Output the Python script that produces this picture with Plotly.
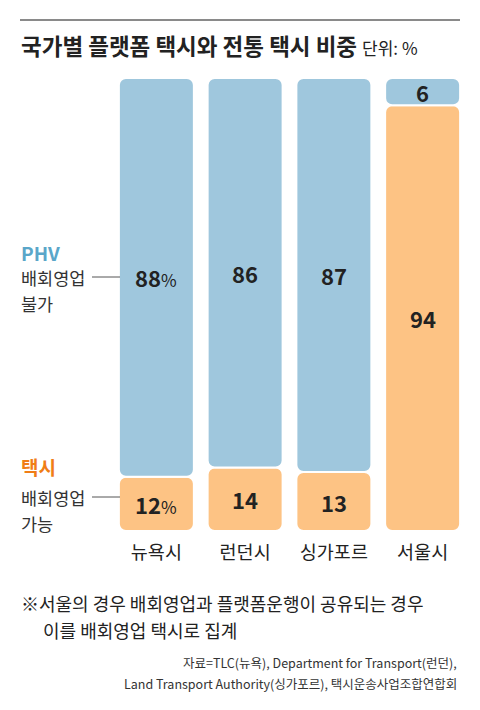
import plotly.graph_objects as go

# data
cities = ["뉴욕시", "런던시", "싱가포르", "서울시"]
phv_share = [88, 86, 87, 6]       # 배회영업 불가 (PHV)
taxi_share = [12, 14, 13, 94]     # 배회영업 가능 (택시)

title = "국가별 플랫폼 택시와 전통 택시 비중"
unit = "단위: %"
note_lines = ["※서울의 경우 배회영업과 플랫폼운행이 공유되는 경우", "이를 배회영업 택시로 집계"]
source_lines = ["자료=TLC(뉴욕), Department for Transport(런던),",
                "Land Transport Authority(싱가포르), 택시운송사업조합연합회"]

BLUE = "#9fc7dd"
ORANGE = "#fdc384"
FONT = "Noto Sans CJK KR"
OFF = 8  # page body margin
W, H = 480 - OFF, 710 - OFF

def px(x):
    return (x - OFF) / W

def py(y):
    return 1 - (y - OFF) / H

fig = go.Figure()

# taxi bars drawn downward from their top so the rounded end sits at the bottom
fig.add_trace(go.Bar(
    x=cities, y=[-v for v in taxi_share], base=taxi_share,
    marker=dict(color=ORANGE, line=dict(color="white", width=2)),
    hoverinfo="skip", showlegend=False,
))
fig.add_trace(go.Bar(
    x=cities, y=phv_share, base=taxi_share,
    marker=dict(color=BLUE, line=dict(color="white", width=2)),
    hoverinfo="skip", showlegend=False,
))

# value labels at segment midpoints
for i, c in enumerate(cities):
    pct = "<span style='font-size:17px'>%</span>" if i == 0 else ""
    fig.add_annotation(x=c, y=taxi_share[i] + phv_share[i] / 2, xref="x", yref="y",
                       text=f"<b>{phv_share[i]}</b>{pct}", showarrow=False,
                       font=dict(size=22, color="#222", family=FONT))
    fig.add_annotation(x=c, y=taxi_share[i] / 2, xref="x", yref="y",
                       text=f"<b>{taxi_share[i]}</b>{pct}", showarrow=False,
                       font=dict(size=22, color="#222", family=FONT))

# title and rule
fig.add_shape(type="line", xref="paper", yref="paper", x0=px(20), x1=px(460),
              y0=py(20), y1=py(20), line=dict(color="#8a8a8a", width=2))
fig.add_annotation(xref="paper", yref="paper", x=px(19), y=py(45), xanchor="left", yanchor="middle",
                   text=f"<b>{title}</b> <span style='font-size:17px'>{unit}</span>",
                   showarrow=False, font=dict(size=22.5, color="#222", family=FONT))

# left legend labels
def side_label(y, text, color, size=17.5, bold=False):
    t = f"<b>{text}</b>" if bold else text
    fig.add_annotation(xref="paper", yref="paper", x=px(19), y=py(y), xanchor="left", yanchor="middle",
                       text=t, showarrow=False, font=dict(size=size, color=color, family=FONT))

side_label(252, "PHV", "#5aa6c9", 19, True)
side_label(277, "배회영업", "#333")
side_label(303, "불가", "#333")
side_label(466, "택시", "#f07d16", 19, True)
side_label(497, "배회영업", "#333")
side_label(523, "가능", "#333")
for yy in (277, 497):
    fig.add_shape(type="line", xref="paper", yref="paper", x0=px(92), x1=px(120),
                  y0=py(yy), y1=py(yy), line=dict(color="#555", width=1))

# note and source
for i, (t, y) in enumerate(zip(note_lines, [603, 630])):
    fig.add_annotation(xref="paper", yref="paper", x=px(19 if i == 0 else 41), y=py(y),
                       xanchor="left", yanchor="middle", text=t, showarrow=False,
                       font=dict(size=18, color="#222", family=FONT))
for t, y in zip(source_lines, [662, 683]):
    fig.add_annotation(xref="paper", yref="paper", x=px(459), y=py(y),
                       xanchor="right", yanchor="middle", text=t, showarrow=False,
                       font=dict(size=12.5, color="#333", family=FONT))

fig.update_layout(
    width=W, height=H, margin=dict(l=0, r=0, t=0, b=0),
    plot_bgcolor="white", paper_bgcolor="white",
    barmode="overlay", bargap=0.155, barcornerradius=7,
    xaxis=dict(domain=[px(112), px(467)], range=[-0.5, 3.5], showgrid=False, zeroline=False,
               showline=False, ticks="", ticklabelstandoff=8,
               tickfont=dict(size=18.5, color="#222", family=FONT)),
    yaxis=dict(domain=[py(531), py(78)], range=[0, 100], visible=False),
)

fig.write_html("out.html")
